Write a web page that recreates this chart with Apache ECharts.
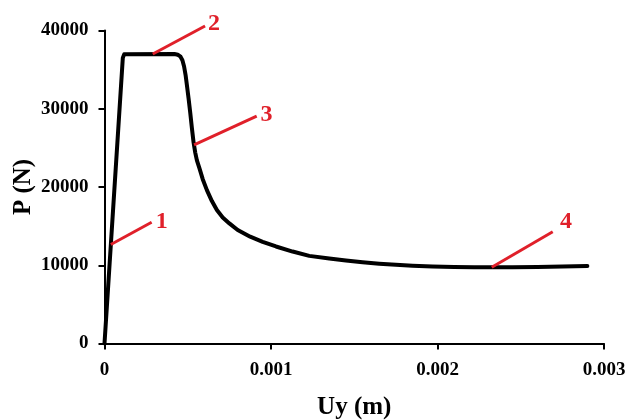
<!DOCTYPE html>
<html>
<head>
<meta charset="utf-8">
<script src="https://cdn.jsdelivr.net/npm/echarts@6/dist/echarts.min.js"></script>
<style>
html,body{margin:0;padding:0;background:#fff;}
#c{width:628px;height:420px;}
</style>
</head>
<body>
<div id="c"></div>
<script>
// Displacement Uy (m)
var uy = [0, 0.00011, 0.000118, 0.00013, 0.00042, 0.00044, 0.000455, 0.000468, 0.000478, 0.000487, 0.000495, 0.000505, 0.000515, 0.000525, 0.000535, 0.000545, 0.000555, 0.00057, 0.00059, 0.000615, 0.000645, 0.000675, 0.00071, 0.00075, 0.0008, 0.000875, 0.00095, 0.00103, 0.00113, 0.00123, 0.00135, 0.00145, 0.00155, 0.00165, 0.00175, 0.00185, 0.00197, 0.0021, 0.00222, 0.00233, 0.00245, 0.0026, 0.00275, 0.0029];
// Load P (N)
var p = [0, 36500, 36950, 37000, 37000, 36900, 36700, 36200, 35400, 34300, 33000, 31300, 29500, 27500, 25700, 24400, 23400, 22400, 21000, 19600, 18200, 17050, 16100, 15350, 14500, 13650, 13000, 12400, 11750, 11200, 10850, 10600, 10380, 10200, 10050, 9930, 9840, 9790, 9760, 9750, 9760, 9790, 9840, 9900];

var xTicks = ['0', '0.001', '0.002', '0.003'];
var yTicks = ['0', '10000', '20000', '30000', '40000'];

// Annotation labels and leader lines (data coordinates)
var annLabels = ['1', '2', '3', '4'];
var annFrom = [[0.000038, 12650], [0.00029, 37000], [0.000538, 25370], [0.002326, 9750]];
var annTo = [[0.000283, 15490], [0.000604, 40580], [0.000914, 29070], [0.002692, 14290]];
var annText = [[0.000344, 15570], [0.000658, 40900], [0.000973, 29200], [0.002772, 15570]];

var data = uy.map(function (x, i) { return [x, p[i]]; });
var FONT = '"Liberation Serif", "Times New Roman", serif';

var chart = echarts.init(document.getElementById('c'), null, {renderer: 'canvas'});
chart.setOption({
  backgroundColor: '#fff',
  animation: false,
  grid: {left: 104.5, right: 24, top: 30.5, bottom: 76.5, containLabel: false, outerBoundsMode: 'none'},
  xAxis: {
    type: 'value', min: 0, max: 0.003, interval: 0.001,
    name: 'Uy (m)', nameLocation: 'middle', nameGap: 52, nameMoveOverlap: false,
    nameTextStyle: {fontFamily: FONT, fontWeight: 'bold', fontSize: 25, color: '#000'},
    axisLine: {show: true, onZero: false, lineStyle: {color: '#000', width: 2}},
    axisTick: {show: true, inside: false, length: 6, lineStyle: {color: '#000', width: 2}},
    splitLine: {show: false},
    axisLabel: {margin: 17, fontFamily: FONT, fontWeight: 'bold', fontSize: 19, color: '#000',
      formatter: function (v) { return xTicks[Math.round(v / 0.001)]; }}
  },
  yAxis: {
    type: 'value', min: 0, max: 40000, interval: 10000,
    name: 'P (N)', nameLocation: 'middle', nameGap: 68, nameRotate: 90, nameMoveOverlap: false,
    nameTextStyle: {fontFamily: FONT, fontWeight: 'bold', fontSize: 25, color: '#000'},
    axisLine: {show: true, lineStyle: {color: '#000', width: 2}},
    axisTick: {show: true, inside: false, length: 6, lineStyle: {color: '#000', width: 2}},
    splitLine: {show: false},
    axisLabel: {margin: 16, fontFamily: FONT, fontWeight: 'bold', fontSize: 19, color: '#000',
      formatter: function (v) { return yTicks[Math.round(v / 10000)]; }}
  },
  series: [{
    type: 'line', data: data, showSymbol: false, smooth: false,
    lineStyle: {color: '#000', width: 4, join: 'round', cap: 'round'}, clip: false
  }]
});

var g = [];
for (var i = 0; i < annLabels.length; i++) {
  var a = chart.convertToPixel({gridIndex: 0}, annFrom[i]);
  var b = chart.convertToPixel({gridIndex: 0}, annTo[i]);
  var t = chart.convertToPixel({gridIndex: 0}, annText[i]);
  g.push({type: 'line', shape: {x1: a[0], y1: a[1], x2: b[0], y2: b[1]},
    style: {stroke: '#e0202a', lineWidth: 3}, z: 10});
  g.push({type: 'text', x: t[0], y: t[1],
    style: {text: annLabels[i], fill: '#e0202a', font: 'bold 24px ' + FONT, textAlign: 'center', textVerticalAlign: 'middle'}, z: 10});
}
chart.setOption({graphic: g});
</script>
</body>
</html>
